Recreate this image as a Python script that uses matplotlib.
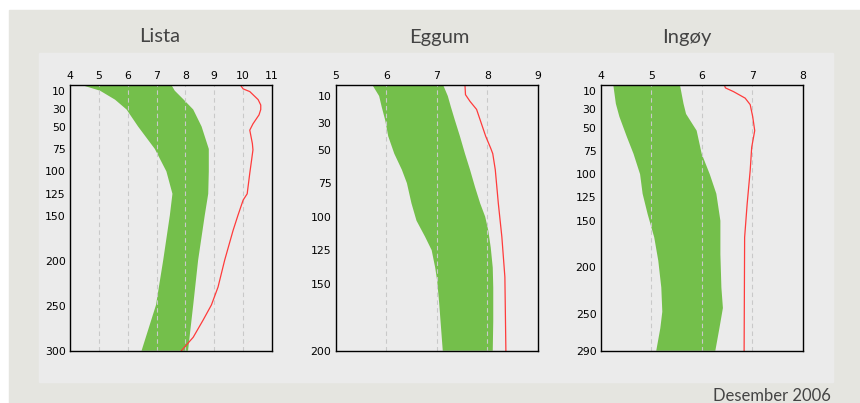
import matplotlib; matplotlib.use("Agg")
import matplotlib.pyplot as plt
import numpy as np

GREEN = "#74bf4b"; RED = "#ff3b3b"; OUTER = "#e5e5e0"; INNER = "#ebebeb"; TXT = "#444444"

# Lista: temperature band (min/max) and red line, by depth (m)
lista_lo_depth = [4, 10, 20, 31, 50, 75, 100, 125, 149, 199, 249, 300]
lista_lo = [4.43, 5.04, 5.56, 5.96, 6.36, 6.94, 7.34, 7.55, 7.46, 7.23, 6.98, 6.48]
lista_hi_depth = [4, 10, 20, 31, 50, 75, 100, 125, 149, 199, 249, 300]
lista_hi = [7.52, 7.63, 7.94, 8.27, 8.56, 8.81, 8.81, 8.79, 8.67, 8.44, 8.27, 8.09]
lista_red_depth = [4, 8, 11, 20, 26, 31, 37, 47, 54, 69, 76, 88, 102, 125, 132, 149, 166, 199, 229, 249, 266, 285, 300]
lista_red = [9.91, 10.0, 10.23, 10.52, 10.61, 10.61, 10.55, 10.34, 10.23, 10.32, 10.34, 10.29,
             10.23, 10.14, 10.0, 9.82, 9.65, 9.36, 9.13, 8.9, 8.61, 8.27, 7.86]
lista_yticks = [10, 30, 50, 75, 100, 125, 150, 200, 250, 300]

# Eggum
eggum_lo_depth = [2, 10, 18, 28, 40, 53, 65, 75, 90, 103, 115, 125, 138, 148, 165, 200]
eggum_lo = [5.73, 5.86, 5.91, 5.98, 6.04, 6.16, 6.31, 6.41, 6.5, 6.6, 6.77, 6.9, 6.97, 7.01, 7.05, 7.12]
eggum_hi_depth = [2, 10, 18, 28, 40, 53, 65, 78, 90, 100, 110, 123, 138, 153, 178, 200]
eggum_hi = [7.13, 7.22, 7.28, 7.36, 7.46, 7.56, 7.66, 7.76, 7.86, 7.96, 8.02, 8.07, 8.11, 8.12, 8.12, 8.11]
eggum_red_depth = [2, 9, 14, 20, 30, 40, 49, 53, 65, 90, 115, 145, 200]
eggum_red = [7.56, 7.57, 7.66, 7.79, 7.88, 7.97, 8.07, 8.11, 8.16, 8.22, 8.29, 8.35, 8.37]
eggum_yticks = [10, 30, 50, 75, 100, 125, 150, 200]

# Ingøy
ingoy_lo_depth = [4, 24, 38, 60, 78, 100, 121, 143, 168, 193, 222, 248, 266, 290]
ingoy_lo = [4.25, 4.30, 4.37, 4.52, 4.65, 4.78, 4.83, 4.93, 5.06, 5.14, 5.20, 5.22, 5.18, 5.10]
ingoy_hi_depth = [4, 24, 35, 53, 78, 100, 121, 150, 186, 222, 244, 266, 290]
ingoy_hi = [5.57, 5.64, 5.69, 5.90, 6.0, 6.16, 6.29, 6.37, 6.37, 6.39, 6.42, 6.35, 6.27]
ingoy_red_depth = [4, 7, 11, 18, 25, 38, 53, 71, 96, 132, 168, 290]
ingoy_red = [6.45, 6.47, 6.63, 6.86, 6.96, 7.01, 7.05, 6.99, 6.96, 6.90, 6.85, 6.84]
ingoy_yticks = [10, 30, 50, 75, 100, 125, 150, 200, 250, 290]

fig = plt.figure(figsize=(8.6, 4.03), dpi=100)
fig.patch.set_facecolor("white")
# outer grey frame and inner lighter panel
fig.add_artist(plt.Rectangle((9/860, 0), 1, 1 - 10/403, transform=fig.transFigure, color=OUTER, zorder=-2))
fig.add_artist(plt.Rectangle((39/860, 1 - 382/403), (833-39)/860, (382-53)/403,
                             transform=fig.transFigure, color=INNER, zorder=-1))

def panel(left, title, xlim, ylim, lo_d, lo, hi_d, hi, red_d, red, yticks, title_x):
    ax = fig.add_axes([left/860, 1 - 350.7/403, 202/860, 265.4/403])
    ax.set_facecolor(INNER)
    # band = left edge down, right edge back up
    xs = np.concatenate([lo, hi[::-1]]); ys = np.concatenate([lo_d, hi_d[::-1]])
    ax.fill(xs, ys, color=GREEN, lw=0, zorder=2)
    ax.plot(red, red_d, color=RED, lw=0.9, zorder=3)
    for v in range(xlim[0] + 1, xlim[1]):
        ax.axvline(v, color="#c9c9c9", lw=0.8, ls=(0, (4, 3)), zorder=2.5)
    ax.set_xlim(*xlim); ax.set_ylim(*ylim)
    ax.xaxis.tick_top()
    ax.set_xticks(range(xlim[0], xlim[1] + 1))
    ax.set_yticks(yticks)
    ax.tick_params(length=0, labelsize=7.8, pad=3, colors="black")
    for s in ax.spines.values():
        s.set_linewidth(1.0); s.set_color("black"); s.set_zorder(4)
    fig.text(title_x/860, 1 - 37/403, title, ha="center", va="center", fontsize=14.5,
             family="Lato", color=TXT)

panel(70, "Lista", (4, 11), (300, 4), np.array(lista_lo_depth), np.array(lista_lo),
      np.array(lista_hi_depth), np.array(lista_hi), lista_red_depth, lista_red, lista_yticks, 160)
panel(335.7, "Eggum", (5, 9), (200, 2), np.array(eggum_lo_depth), np.array(eggum_lo),
      np.array(eggum_hi_depth), np.array(eggum_hi), eggum_red_depth, eggum_red, eggum_yticks, 439)
panel(600.7, "Ingøy", (4, 8), (290, 4.2), np.array(ingoy_lo_depth), np.array(ingoy_lo),
      np.array(ingoy_hi_depth), np.array(ingoy_hi), ingoy_red_depth, ingoy_red, ingoy_yticks, 687)

fig.text(831/860, 1 - 396/403, "Desember 2006", ha="right", va="center", fontsize=12,
         family="Lato", color=TXT)

fig.savefig("out.png", dpi=100, facecolor="white")
